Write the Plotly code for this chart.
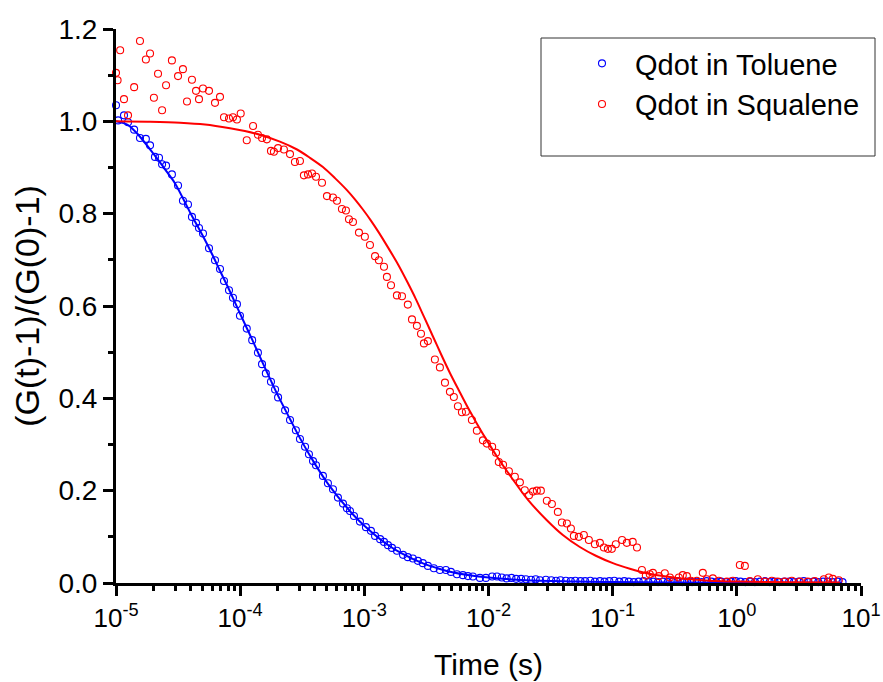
import plotly.graph_objects as go

# ---- measured correlation curves: lag time (s) and normalised correlation ----
lag_toluene = [
    1.00e-5, 1.04e-5, 1.16e-5, 1.25e-5, 1.40e-5, 1.56e-5, 1.74e-5, 1.88e-5, 2.06e-5, 2.22e-5,
    2.35e-5, 2.53e-5, 2.82e-5, 3.16e-5, 3.46e-5, 3.80e-5, 4.09e-5, 4.41e-5, 4.66e-5, 5.02e-5,
    5.61e-5, 6.27e-5, 6.88e-5, 7.41e-5, 8.13e-5, 8.75e-5, 9.42e-5, 9.96e-5, 1.13e-4, 1.25e-4,
    1.39e-4, 1.50e-4, 1.61e-4, 1.77e-4, 1.91e-4, 2.02e-4, 2.30e-4, 2.52e-4, 2.81e-4, 3.03e-4,
    3.33e-4, 3.58e-4, 3.86e-4, 4.08e-4, 4.64e-4, 5.09e-4, 5.59e-4, 6.13e-4, 6.73e-4, 7.24e-4,
    7.66e-4, 8.25e-4, 9.22e-4, 1.03e-3, 1.13e-3, 1.22e-3, 1.34e-3, 1.44e-3, 1.55e-3, 1.67e-3,
    1.83e-3, 2.05e-3, 2.24e-3, 2.46e-3, 2.70e-3, 2.96e-3, 3.25e-3, 3.63e-3, 4.06e-3, 4.54e-3,
    4.98e-3, 5.57e-3, 6.22e-3, 6.83e-3, 7.49e-3, 8.53e-3, 9.53e-3, 1.07e-2, 1.17e-2,
    1.28e-2, 1.40e-2, 1.53e-2, 1.67e-2, 1.83e-2, 2.0e-2, 2.2e-2, 2.4e-2, 2.6e-2, 2.9e-2,
    3.2e-2, 3.5e-2, 3.8e-2, 4.2e-2, 4.6e-2, 5.0e-2, 5.5e-2, 6.0e-2, 6.6e-2, 7.2e-2,
    7.9e-2, 8.6e-2, 9.4e-2, 0.103, 0.113, 0.124, 0.135, 0.148, 0.162, 0.177,
    0.194, 0.212, 0.232, 0.254, 0.278, 0.304, 0.333, 0.364, 0.398, 0.436,
    0.477, 0.522, 0.571, 0.625, 0.684, 0.748, 0.819, 0.896, 0.980, 1.07,
    1.17, 1.28, 1.40, 1.54, 1.68, 1.84, 2.01, 2.20, 2.41, 2.64,
    2.89, 3.16, 3.46, 3.78, 4.14, 4.53, 4.95, 5.42, 5.93, 6.49, 7.1,
]
g_toluene = [
    1.035, 1.002, 1.013, 0.998, 0.982, 0.964, 0.962, 0.948, 0.923, 0.921,
    0.907, 0.904, 0.885, 0.861, 0.828, 0.820, 0.793, 0.780, 0.769, 0.757,
    0.725, 0.699, 0.680, 0.654, 0.634, 0.618, 0.604, 0.579, 0.551, 0.526,
    0.499, 0.474, 0.454, 0.436, 0.419, 0.402, 0.374, 0.353, 0.331, 0.312,
    0.295, 0.279, 0.264, 0.255, 0.232, 0.216, 0.203, 0.185, 0.172, 0.162,
    0.156, 0.145, 0.133, 0.121, 0.113, 0.102, 0.095, 0.089, 0.082, 0.076,
    0.070, 0.061, 0.056, 0.053, 0.048, 0.043, 0.037, 0.032, 0.028, 0.028,
    0.024, 0.019, 0.017, 0.015, 0.014, 0.011, 0.011, 0.014, 0.014,
    0.012, 0.010, 0.011, 0.009, 0.009, 0.008, 0.007, 0.008, 0.006, 0.007,
    0.006, 0.005, 0.006, 0.005, 0.004, 0.005, 0.004, 0.004, 0.005, 0.003,
    0.004, 0.003, 0.004, 0.005, 0.003, 0.004, 0.003, 0.002, 0.003, 0.004,
    0.002, 0.003, 0.002, 0.003, 0.002, 0.003, 0.004, 0.002, 0.003, 0.002,
    0.003, 0.002, 0.004, 0.003, 0.002, 0.003, 0.002, 0.003, 0.004, 0.003,
    0.002, 0.003, 0.002, 0.003, 0.004, 0.002, 0.003, 0.002, 0.003, 0.003,
    0.002, 0.003, 0.004, 0.002, 0.003, 0.002, 0.003, 0.003, 0.002, 0.003, 0.002,
]

lag_squalene = [
    1.00e-5, 1.03e-5, 1.08e-5, 1.16e-5, 1.25e-5, 1.40e-5, 1.56e-5, 1.74e-5, 1.88e-5, 2.02e-5,
    2.18e-5, 2.35e-5, 2.53e-5, 2.82e-5, 3.16e-5, 3.46e-5, 3.73e-5, 4.09e-5, 4.41e-5, 4.66e-5,
    5.02e-5, 5.61e-5, 6.27e-5, 6.88e-5, 7.41e-5, 8.13e-5, 8.75e-5, 9.42e-5, 1.01e-4, 1.13e-4,
    1.27e-4, 1.39e-4, 1.50e-4, 1.64e-4, 1.77e-4, 1.87e-4, 2.02e-4, 2.25e-4, 2.52e-4, 2.76e-4,
    3.03e-4, 3.26e-4, 3.52e-4, 3.79e-4, 4.08e-4, 4.56e-4, 5.00e-4, 5.59e-4, 6.02e-4, 6.60e-4,
    7.11e-4, 7.52e-4, 8.10e-4, 9.05e-4, 1.01e-3, 1.11e-3, 1.22e-3, 1.31e-3, 1.44e-3, 1.52e-3,
    1.64e-3, 1.83e-3, 2.01e-3, 2.24e-3, 2.42e-3, 2.65e-3, 2.86e-3, 3.02e-3, 3.25e-3, 3.70e-3,
    4.06e-3, 4.46e-3, 4.89e-3, 5.26e-3, 5.67e-3, 6.11e-3, 6.58e-3, 7.35e-3, 8.06e-3, 9.01e-3,
    9.71e-3, 1.07e-2, 1.15e-2, 1.21e-2, 1.31e-2, 1.46e-2, 1.63e-2, 1.79e-2, 1.96e-2, 2.12e-2,
    2.28e-2, 2.45e-2, 2.64e-2, 2.95e-2, 3.24e-2, 3.62e-2, 3.90e-2, 4.28e-2, 4.61e-2, 4.87e-2,
    5.34e-2, 5.86e-2, 6.43e-2, 7.19e-2, 7.89e-2, 8.50e-2, 9.15e-2, 9.85e-2, 0.106, 0.119,
    0.130, 0.145, 0.157, 0.172, 0.185, 0.199, 0.211, 0.236, 0.263, 0.289,
    0.311, 0.341, 0.367, 0.396, 0.426, 0.476, 0.532, 0.573, 0.641, 0.716,
    0.831, 0.929, 1.057, 1.160, 1.273, 1.476, 1.680, 1.913, 2.138, 2.435,
    2.773, 3.216, 3.730, 4.246, 5.018, 5.505, 5.930, 6.627,
]
g_squalene = [
    1.105, 1.089, 1.154, 1.048, 1.013, 1.074, 1.174, 1.134, 1.147, 1.051,
    1.103, 1.024, 1.078, 1.132, 1.098, 1.113, 1.043, 1.090, 1.066, 1.048,
    1.071, 1.066, 1.040, 1.053, 1.009, 1.006, 1.009, 1.004, 1.017, 0.959,
    0.990, 0.971, 0.964, 0.961, 0.936, 0.934, 0.942, 0.939, 0.929, 0.912,
    0.914, 0.883, 0.885, 0.887, 0.880, 0.867, 0.838, 0.835, 0.828, 0.810,
    0.807, 0.788, 0.782, 0.759, 0.750, 0.732, 0.708, 0.699, 0.685, 0.663,
    0.645, 0.623, 0.621, 0.603, 0.571, 0.557, 0.540, 0.519, 0.524, 0.484,
    0.467, 0.434, 0.414, 0.403, 0.383, 0.370, 0.371, 0.353, 0.330, 0.309,
    0.302, 0.295, 0.282, 0.262, 0.256, 0.242, 0.230, 0.218, 0.201, 0.190,
    0.198, 0.200, 0.200, 0.178, 0.171, 0.154, 0.131, 0.129, 0.118, 0.102,
    0.100, 0.104, 0.093, 0.084, 0.087, 0.077, 0.074, 0.074, 0.084, 0.093,
    0.087, 0.089, 0.077, 0.028, 0.016, 0.019, 0.022, 0.015, 0.021, 0.012,
    0.005, 0.012, 0.017, 0.015, 0.005, 0.005, 0.022, 0.008, 0.010, 0.005,
    0.003, 0.005, 0.039, 0.037, 0.004, 0.008, 0.003, 0.005, 0.003, 0.003,
    0.005, 0.003, 0.003, 0.004, 0.008, 0.012, 0.009, 0.006,
]

# ---- fitted diffusion curves ----
fit_lag_toluene = [
    1.0e-5, 1.25e-5, 1.5e-5, 2.0e-5, 2.5e-5, 3.0e-5, 4.0e-5, 5.0e-5, 6.0e-5, 7.0e-5,
    8.0e-5, 1.0e-4, 1.25e-4, 1.5e-4, 2.0e-4, 2.5e-4, 3.0e-4, 4.0e-4, 5.0e-4, 6.0e-4,
    7.0e-4, 8.0e-4, 1.0e-3, 1.5e-3, 2.0e-3, 3.0e-3, 4.0e-3, 5.0e-3, 7.0e-3, 1.0e-2,
    2.0e-2, 5.0e-2, 0.1, 1.0, 7.0,
]
fit_toluene = [
    1.000, 0.992, 0.972, 0.930, 0.895, 0.865, 0.800, 0.752, 0.710, 0.672,
    0.640, 0.583, 0.527, 0.480, 0.408, 0.357, 0.316, 0.258, 0.218, 0.190,
    0.168, 0.150, 0.124, 0.085, 0.064, 0.042, 0.031, 0.024, 0.017, 0.012,
    0.006, 0.0035, 0.002, 0.0008, 0.0003,
]
fit_lag_squalene = [
    1.00e-5, 1.88e-5, 3.28e-5, 5.21e-5, 8.28e-5, 1.09e-4, 1.44e-4, 2.09e-4, 2.87e-4, 3.65e-4,
    4.64e-4, 5.80e-4, 7.24e-4, 8.40e-4, 9.74e-4, 1.13e-3, 1.31e-3, 1.55e-3, 1.86e-3, 2.20e-3,
    2.60e-3, 3.02e-3, 3.57e-3, 4.14e-3, 4.89e-3, 5.78e-3, 6.82e-3, 7.92e-3, 9.35e-3, 1.17e-2,
    1.49e-2, 2.08e-2, 2.95e-2, 3.97e-2, 5.44e-2, 7.32e-2, 0.1004, 0.1375, 0.1885, 0.2537,
    0.3476, 0.606, 1.057, 2.672, 6.75,
]
fit_squalene = [
    1.000, 0.999, 0.997, 0.993, 0.985, 0.979, 0.971, 0.956, 0.939, 0.921,
    0.901, 0.877, 0.851, 0.831, 0.809, 0.785, 0.759, 0.727, 0.691, 0.654,
    0.615, 0.577, 0.534, 0.496, 0.455, 0.417, 0.380, 0.349, 0.316, 0.274,
    0.233, 0.180, 0.136, 0.104, 0.078, 0.059, 0.043, 0.031, 0.021, 0.015,
    0.010, 0.005, 0.003, 0.0015, 0.001,
]

x_tick_vals = [1e-5, 1e-4, 1e-3, 1e-2, 1e-1, 1e0, 1e1]
x_tick_text = ["10<sup>-5</sup>", "10<sup>-4</sup>", "10<sup>-3</sup>", "10<sup>-2</sup>",
               "10<sup>-1</sup>", "10<sup>0</sup>", "10<sup>1</sup>"]
y_tick_vals = [0.0, 0.2, 0.4, 0.6, 0.8, 1.0, 1.2]

BLUE = "#0000ff"
RED = "#ff0000"
FONT = "Liberation Sans, Arial, sans-serif"

W, H = 883, 682
L, R, T, B = 116, 22, 29, 99
pw, ph = W - L - R, H - T - B


def px_to_paper(x, y):
    return (x - L) / pw, (H - B - y) / ph


fig = go.Figure()
fig.add_trace(go.Scatter(
    x=lag_toluene, y=g_toluene, mode="markers", name="Qdot in Toluene",
    marker=dict(symbol="circle-open", size=7, color=BLUE, line=dict(width=1.1)),
    cliponaxis=False,
))
fig.add_trace(go.Scatter(
    x=lag_squalene, y=g_squalene, mode="markers", name="Qdot in Squalene",
    marker=dict(symbol="circle-open", size=7, color=RED, line=dict(width=1.1)),
    cliponaxis=False,
))
fig.add_trace(go.Scatter(
    x=fit_lag_toluene, y=fit_toluene, mode="lines",
    line=dict(color=BLUE, width=2, shape="spline", smoothing=0.8),
    showlegend=False, hoverinfo="skip",
))
fig.add_trace(go.Scatter(
    x=fit_lag_squalene, y=fit_squalene, mode="lines",
    line=dict(color=RED, width=2, shape="spline", smoothing=0.8),
    showlegend=False, hoverinfo="skip",
))

# legend frame
x0, y0 = px_to_paper(541, 156)
x1, y1 = px_to_paper(875, 38)
fig.add_shape(type="rect", xref="paper", yref="paper", x0=x0, y0=y0, x1=x1, y1=y1,
              line=dict(color="#333333", width=1), fillcolor="rgba(0,0,0,0)", layer="above")

lx, ly = px_to_paper(569, 38)
axis_common = dict(
    showline=True, linewidth=3, linecolor="black", mirror=False,
    ticks="outside", ticklen=10, tickwidth=3, tickcolor="black",
    showgrid=False, zeroline=False, automargin=False,
)
fig.update_layout(
    width=W, height=H,
    margin=dict(l=L, r=R, t=T, b=B, autoexpand=False),
    paper_bgcolor="white", plot_bgcolor="white",
    font=dict(family=FONT, color="black", size=28),
    showlegend=True,
    legend=dict(x=lx, y=ly, xanchor="left", yanchor="top", bgcolor="rgba(0,0,0,0)",
                borderwidth=0, itemwidth=56, font=dict(size=29, family=FONT),
                tracegroupgap=0),
    xaxis=dict(
        type="log", range=[-5, 1],
        tickmode="array", tickvals=x_tick_vals, ticktext=x_tick_text,
        tickfont=dict(size=26, family=FONT),
        minor=dict(ticks="outside", ticklen=5, tickwidth=3, tickcolor="black",
                   tickvals=[m * 10.0 ** e for e in range(-5, 1) for m in range(2, 10)]),
        title=dict(text="Time (s)", font=dict(size=30, family=FONT), standoff=22),
        **axis_common,
    ),
    yaxis=dict(
        range=[0, 1.2],
        tickmode="array", tickvals=y_tick_vals, tickformat=".1f",
        tickfont=dict(size=28, family=FONT),
        minor=dict(ticks="outside", ticklen=5, tickwidth=3, tickcolor="black", dtick=0.1),
        title=dict(text="(G(t)-1)/(G(0)-1)", font=dict(size=34, family=FONT), standoff=9),
        **axis_common,
    ),
)

fig.write_html("out.html")
